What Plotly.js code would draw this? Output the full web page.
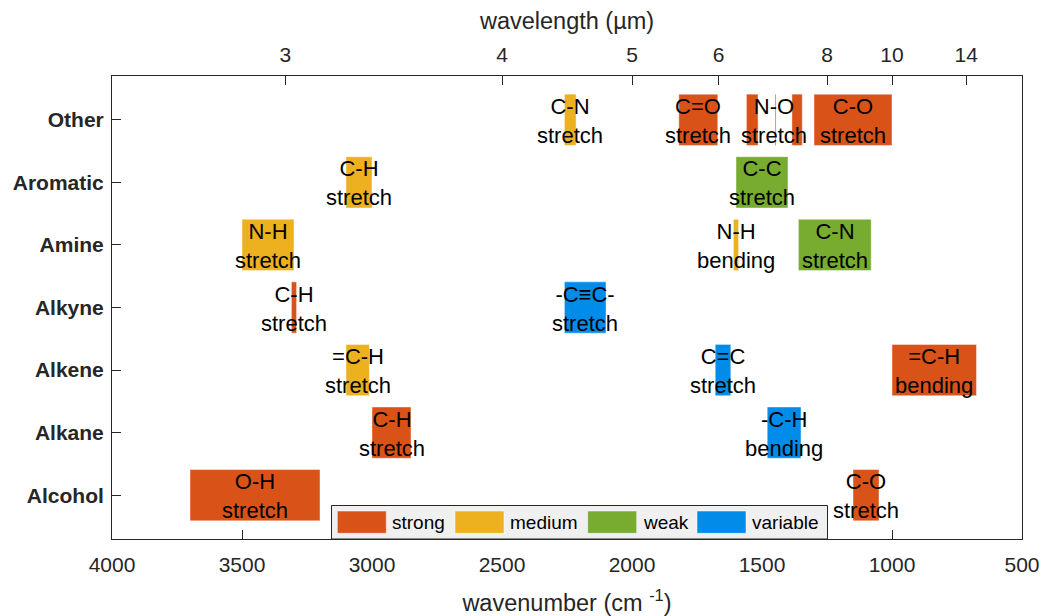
<!DOCTYPE html>
<html>
<head>
<meta charset="utf-8">
<script src="https://cdn.plot.ly/plotly-3.0.1.min.js"></script>
<style>html,body{margin:0;padding:0;background:#fff;}#chart{width:1041px;height:616px;}</style>
</head>
<body>
<div id="chart"></div>
<script>
// ---- data ----
const groups = ['Alcohol','Alkane','Alkene','Alkyne','Amine','Aromatic','Other'];
const intensities = ['strong','medium','weak','variable'];
const intensityColors = ['#D95319','#EDB120','#77AC30','#008CE8'];

const bandGroup = ['Alcohol','Alcohol','Alkane','Alkane','Alkene','Alkene','Alkene','Alkyne','Alkyne','Amine','Amine','Amine','Aromatic','Aromatic','Other','Other','Other','Other','Other','Other'];
const bandLabel = ['O-H<br>stretch','C-O<br>stretch','C-H<br>stretch','-C-H<br>bending','=C-H<br>stretch','C=C<br>stretch','=C-H<br>bending','C-H<br>stretch','-C≡C-<br>stretch','N-H<br>stretch','N-H<br>bending','C-N<br>stretch','C-H<br>stretch','C-C<br>stretch','C-N<br>stretch','C=O<br>stretch','N-O<br>stretch','N-O<br>stretch','N-O<br>stretch','C-O<br>stretch'];
const bandIntensity = ['strong','strong','strong','variable','medium','variable','strong','strong','variable','medium','medium','weak','medium','weak','medium','strong','strong','strong','strong','strong'];
const bandHigh = [3700,1150,3000,1480,3100,1680,1000,3310,2260,3500,1610,1360,3100,1600,2260,1820,1560,1450,1385,1300];
const bandLow  = [3200,1050,2850,1350,3010,1620, 675,3290,2100,3300,1590,1080,3000,1400,2215,1670,1515,1446,1345,1000];

const wavenumberTicks = [4000,3500,3000,2500,2000,1500,1000,500];
const wavelengthTicks = [3,4,5,6,8,10,14];

// ---- build ----
const FONT = 'Liberation Sans, Arial, Helvetica, sans-serif';
const DARK = '#262626';

const traces = intensities.map((name, k) => {
  const idx = bandIntensity.map((v,i)=>v===name?i:-1).filter(i=>i>=0);
  return {
    type: 'bar', orientation: 'h', name: name,
    y: idx.map(i=>bandGroup[i]),
    base: idx.map(i=>bandLow[i]),
    x: idx.map(i=>bandHigh[i]-bandLow[i]),
    width: 0.82,
    marker: {color: intensityColors[k], line: {color: 'rgba(255,255,255,0.45)', width: 1}},
    showlegend: false, hoverinfo: 'skip'
  };
});
traces.push({type:'scatter', mode:'markers', x:[wavenumberTicks[0]], y:[groups[0]], xaxis:'x2', marker:{opacity:0}, showlegend:false, hoverinfo:'skip'});

// labels centred over the full span of each (group, label)
const annotations = [];
const seen = {};
bandGroup.forEach((g,i)=>{
  const key = g+'|'+bandLabel[i];
  if (!seen[key]) seen[key] = {g:g, t:bandLabel[i], lo:bandLow[i], hi:bandHigh[i]};
  else { seen[key].lo = Math.min(seen[key].lo, bandLow[i]); seen[key].hi = Math.max(seen[key].hi, bandHigh[i]); }
});
Object.values(seen).forEach(s=>{
  annotations.push({x:(s.lo+s.hi)/2, y:s.g, xref:'x', yref:'y', text:s.t, showarrow:false,
    xanchor:'center', yanchor:'middle', align:'center', yshift:-1,
    font:{family:FONT, size:22, color:'#000'}});
});

// manual legend (layout positions in pixels -> paper)
const L=112, T=76, W=910, H=463;
const px = v => (v-L)/W, py = v => (T+H-v)/H;
const shapes = [];
shapes.push({type:'rect', xref:'paper', yref:'paper', x0:px(331.5), x1:px(827.5), y0:py(539), y1:py(505.5),
  fillcolor:'#F0F0F0', line:{color:DARK, width:1}, layer:'above'});
const swatchX = [337.3, 455, 587.7, 697];
intensities.forEach((name,k)=>{
  shapes.push({type:'rect', xref:'paper', yref:'paper', x0:px(swatchX[k]), x1:px(swatchX[k]+49), y0:py(533.3), y1:py(511),
    fillcolor:intensityColors[k], line:{color:'rgba(255,255,255,0.5)', width:1}, layer:'above'});
  annotations.push({xref:'paper', yref:'paper', x:px(swatchX[k]+53), y:py(522.5), text:name, showarrow:false,
    xanchor:'left', yanchor:'middle', font:{family:FONT, size:19, color:'#000'}});
});

const axisCommon = {
  showgrid:false, zeroline:false, showline:true, linecolor:DARK, linewidth:1,
  ticks:'inside', ticklen:9, tickwidth:1, tickcolor:DARK,
  tickfont:{family:FONT, size:21, color:DARK}
};

const layout = {
  width:1041, height:616,
  margin:{l:112, r:19, t:76, b:77},
  paper_bgcolor:'#fff', plot_bgcolor:'#fff',
  barmode:'overlay',
  font:{family:FONT, color:DARK},
  xaxis: Object.assign({}, axisCommon, {
    range:[4000,500], tickvals:wavenumberTicks, ticktext:wavenumberTicks.map(String),
    anchor:'y', ticklabelstandoff:7,
    title:{text:'wavenumber (cm <sup>-1</sup>)', standoff:20, font:{family:FONT, size:23.5, color:DARK}}
  }),
  xaxis2: Object.assign({}, axisCommon, {
    range:[4000,500], overlaying:'x', side:'top', anchor:'y', ticklabelstandoff:5,
    tickvals:wavelengthTicks.map(w=>10000/w), ticktext:wavelengthTicks.map(String),
    title:{text:'wavelength (µm)', standoff:6, font:{family:FONT, size:23.5, color:DARK}}
  }),
  yaxis: Object.assign({}, axisCommon, {
    type:'category', categoryorder:'array', categoryarray:groups,
    range:[-0.7, 6.7], mirror:true, ticklabelstandoff:3,
    tickfont:{family:FONT, size:21, color:DARK, weight:'bold'}
  }),
  shapes: shapes,
  annotations: annotations,
  showlegend:false
};

Plotly.newPlot('chart', traces, layout, {staticPlot:true, displayModeBar:false});
</script>
</body>
</html>
